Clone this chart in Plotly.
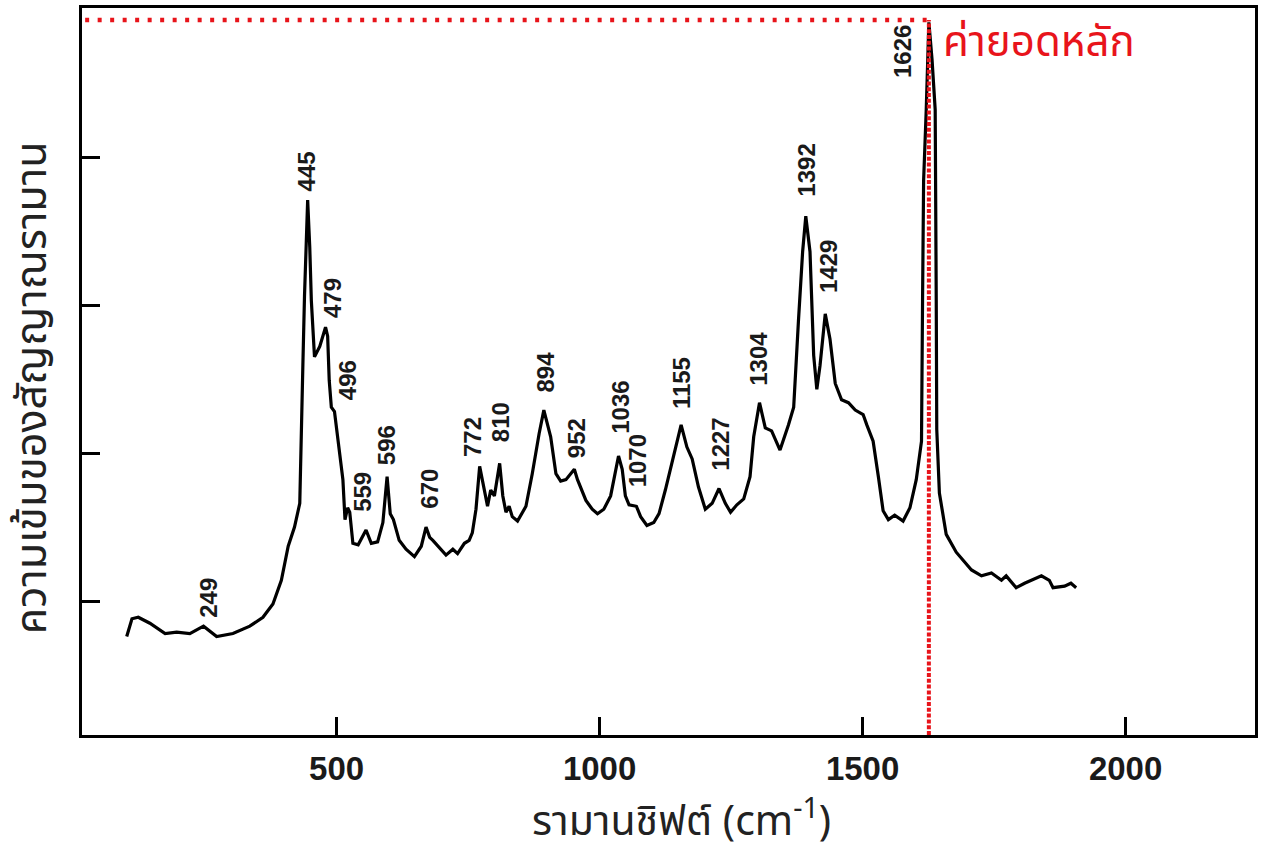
import plotly.graph_objects as go

# ---- Data ----
wavenumber = [101, 111, 123, 145, 174, 196, 221, 247, 272, 303, 335, 360, 379, 395, 408, 420, 430, 433, 436, 439,
              443, 445, 449, 452, 458, 468, 479, 483, 486, 490, 496, 502, 512, 516, 521, 525, 531, 541, 556, 566,
              578, 588, 596, 602, 608, 619, 632, 648, 661, 670, 677, 683, 695, 708, 721, 730, 743, 752, 758, 765,
              772, 781, 787, 793, 800, 810, 816, 822, 828, 834, 844, 860, 872, 885, 894, 907, 917, 926, 936, 952,
              958, 974, 986, 996, 1008, 1021, 1036, 1043, 1049, 1056, 1070, 1078, 1090, 1103, 1113, 1125, 1141,
              1155, 1166, 1176, 1188, 1201, 1214, 1227, 1239, 1249, 1261, 1274, 1286, 1293, 1304, 1315, 1327,
              1343, 1359, 1369, 1378, 1386, 1392, 1400, 1407, 1413, 1419, 1429, 1438, 1448, 1460, 1473, 1486,
              1501, 1508, 1520, 1530, 1539, 1549, 1561, 1577, 1590, 1602, 1612, 1614, 1616, 1621, 1626, 1632,
              1638, 1640, 1641, 1646, 1659, 1678, 1707, 1726, 1745, 1764, 1773, 1792, 1808, 1840, 1855, 1862,
              1884, 1896, 1906]
intensity = [0.76, 0.88, 0.89, 0.85, 0.78, 0.79, 0.78, 0.83, 0.76, 0.78, 0.83, 0.89, 0.98, 1.14, 1.37, 1.50, 1.66,
             2.04, 2.61, 3.06, 3.44, 3.71, 3.39, 3.03, 2.65, 2.72, 2.85, 2.79, 2.49, 2.31, 2.28, 2.09, 1.82, 1.55,
             1.63, 1.60, 1.39, 1.38, 1.48, 1.39, 1.40, 1.53, 1.84, 1.59, 1.55, 1.41, 1.35, 1.30, 1.37, 1.50, 1.43,
             1.41, 1.36, 1.31, 1.35, 1.32, 1.39, 1.41, 1.46, 1.62, 1.91, 1.75, 1.64, 1.75, 1.71, 1.93, 1.71, 1.60,
             1.64, 1.57, 1.54, 1.64, 1.86, 2.13, 2.29, 2.11, 1.86, 1.81, 1.82, 1.89, 1.82, 1.68, 1.62, 1.59, 1.62,
             1.71, 1.98, 1.89, 1.71, 1.65, 1.64, 1.57, 1.51, 1.53, 1.59, 1.75, 1.98, 2.19, 2.04, 1.96, 1.77, 1.62,
             1.66, 1.76, 1.66, 1.60, 1.65, 1.69, 1.84, 2.11, 2.34, 2.17, 2.15, 2.02, 2.19, 2.31, 2.89, 3.36, 3.60,
             3.36, 2.66, 2.43, 2.59, 2.94, 2.77, 2.47, 2.36, 2.34, 2.29, 2.26, 2.19, 2.08, 1.84, 1.61, 1.55, 1.58,
             1.54, 1.63, 1.82, 2.08, 3.03, 3.84, 4.32, 4.91, 4.66, 4.32, 3.03, 2.16, 1.73, 1.45, 1.33, 1.21, 1.17,
             1.19, 1.14, 1.17, 1.09, 1.12, 1.17, 1.14, 1.09, 1.10, 1.12, 1.09]

peak_labels = ["249", "445", "479", "496", "559", "596", "670", "772", "810", "894", "952",
               "1036", "1070", "1155", "1227", "1304", "1392", "1429", "1626"]
main_peak = 1626
main_peak_level = 4.926
x_ticks = [500, 1000, 1500, 2000]
y_ticks = [1, 2, 3, 4]

# label anchor positions (layout, data units)
label_x = [255, 443, 492, 521, 549, 595, 676, 758, 813, 898, 955, 1040, 1071, 1156, 1230, 1302, 1393, 1435, 1577]
label_y = [1.02, 3.90, 3.05, 2.49, 1.74, 2.05, 1.76, 2.11, 2.21, 2.55, 2.10, 2.31, 1.95, 2.47, 2.06, 2.64, 3.91, 3.26, 4.71]

RED = "#e8141b"
THAI = "Noto Sans Thai, Noto Sans, Tahoma, sans-serif"
YMIN, YMAX = 0.0946, 5.007

fig = go.Figure()
fig.add_trace(go.Scatter(x=wavenumber, y=intensity, mode="lines",
                         line=dict(color="black", width=3.2), showlegend=False, hoverinfo="skip"))

annotations = []
for t, lx, ly in zip(peak_labels, label_x, label_y):
    annotations.append(dict(x=lx, y=ly, xref="x", yref="y", text=t, showarrow=False, textangle=-90,
                            xanchor="center", yanchor="middle",
                            font=dict(family="Liberation Sans, Arial, sans-serif", size=24, color="#1a1a1a",
                                      weight="bold")))

annotations.append(dict(x=main_peak, y=4.77, xref="x", yref="y", text="ค่ายอดหลัก", showarrow=False,
                        xanchor="left", yanchor="middle", xshift=12,
                        font=dict(family=THAI, size=42, color=RED)))
annotations.append(dict(x=0.511, y=0, xref="paper", yref="paper", text="รามานชิฟต์ (cm<sup>-1</sup>)",
                        showarrow=False, xanchor="center", yanchor="middle", yshift=-85,
                        font=dict(family=THAI, size=41, color="#222222")))
annotations.append(dict(x=0, y=0.477, xref="paper", yref="paper", text="ความเข้มของสัญญาณรามาน",
                        showarrow=False, xanchor="center", yanchor="middle", xshift=-50, textangle=-90,
                        font=dict(family=THAI, size=43, color="#222222")))

shapes = [
    dict(type="line", xref="x", yref="y", x0=22, x1=main_peak, y0=main_peak_level, y1=main_peak_level,
         line=dict(color=RED, width=4.5, dash="4px,8.5px")),
    dict(type="line", xref="x", yref="y", x0=main_peak, x1=main_peak, y0=YMIN, y1=main_peak_level,
         line=dict(color=RED, width=4, dash="4px,1.8px")),
]

fig.update_layout(
    width=1262, height=852,
    margin=dict(l=82, r=4, t=8, b=117),
    paper_bgcolor="white", plot_bgcolor="white",
    annotations=annotations, shapes=shapes,
    xaxis=dict(range=[16, 2246], tickvals=x_ticks, ticktext=[str(v) for v in x_ticks],
               ticks="inside", ticklen=18, tickwidth=3, tickcolor="black",
               showline=True, linecolor="black", linewidth=3, mirror=True, showgrid=False, zeroline=False,
               tickfont=dict(family="Liberation Sans, Arial, sans-serif", size=33, color="#1a1a1a",
                             weight="bold"),
               ticklabelstandoff=2),
    yaxis=dict(range=[YMIN, YMAX], tickvals=y_ticks, showticklabels=False,
               ticks="inside", ticklen=18, tickwidth=3, tickcolor="black",
               showline=True, linecolor="black", linewidth=3, mirror=True, showgrid=False, zeroline=False),
)

fig.write_html("out.html", config={"displayModeBar": False},
               post_script="document.body.style.margin='0';document.body.style.overflow='hidden';")
